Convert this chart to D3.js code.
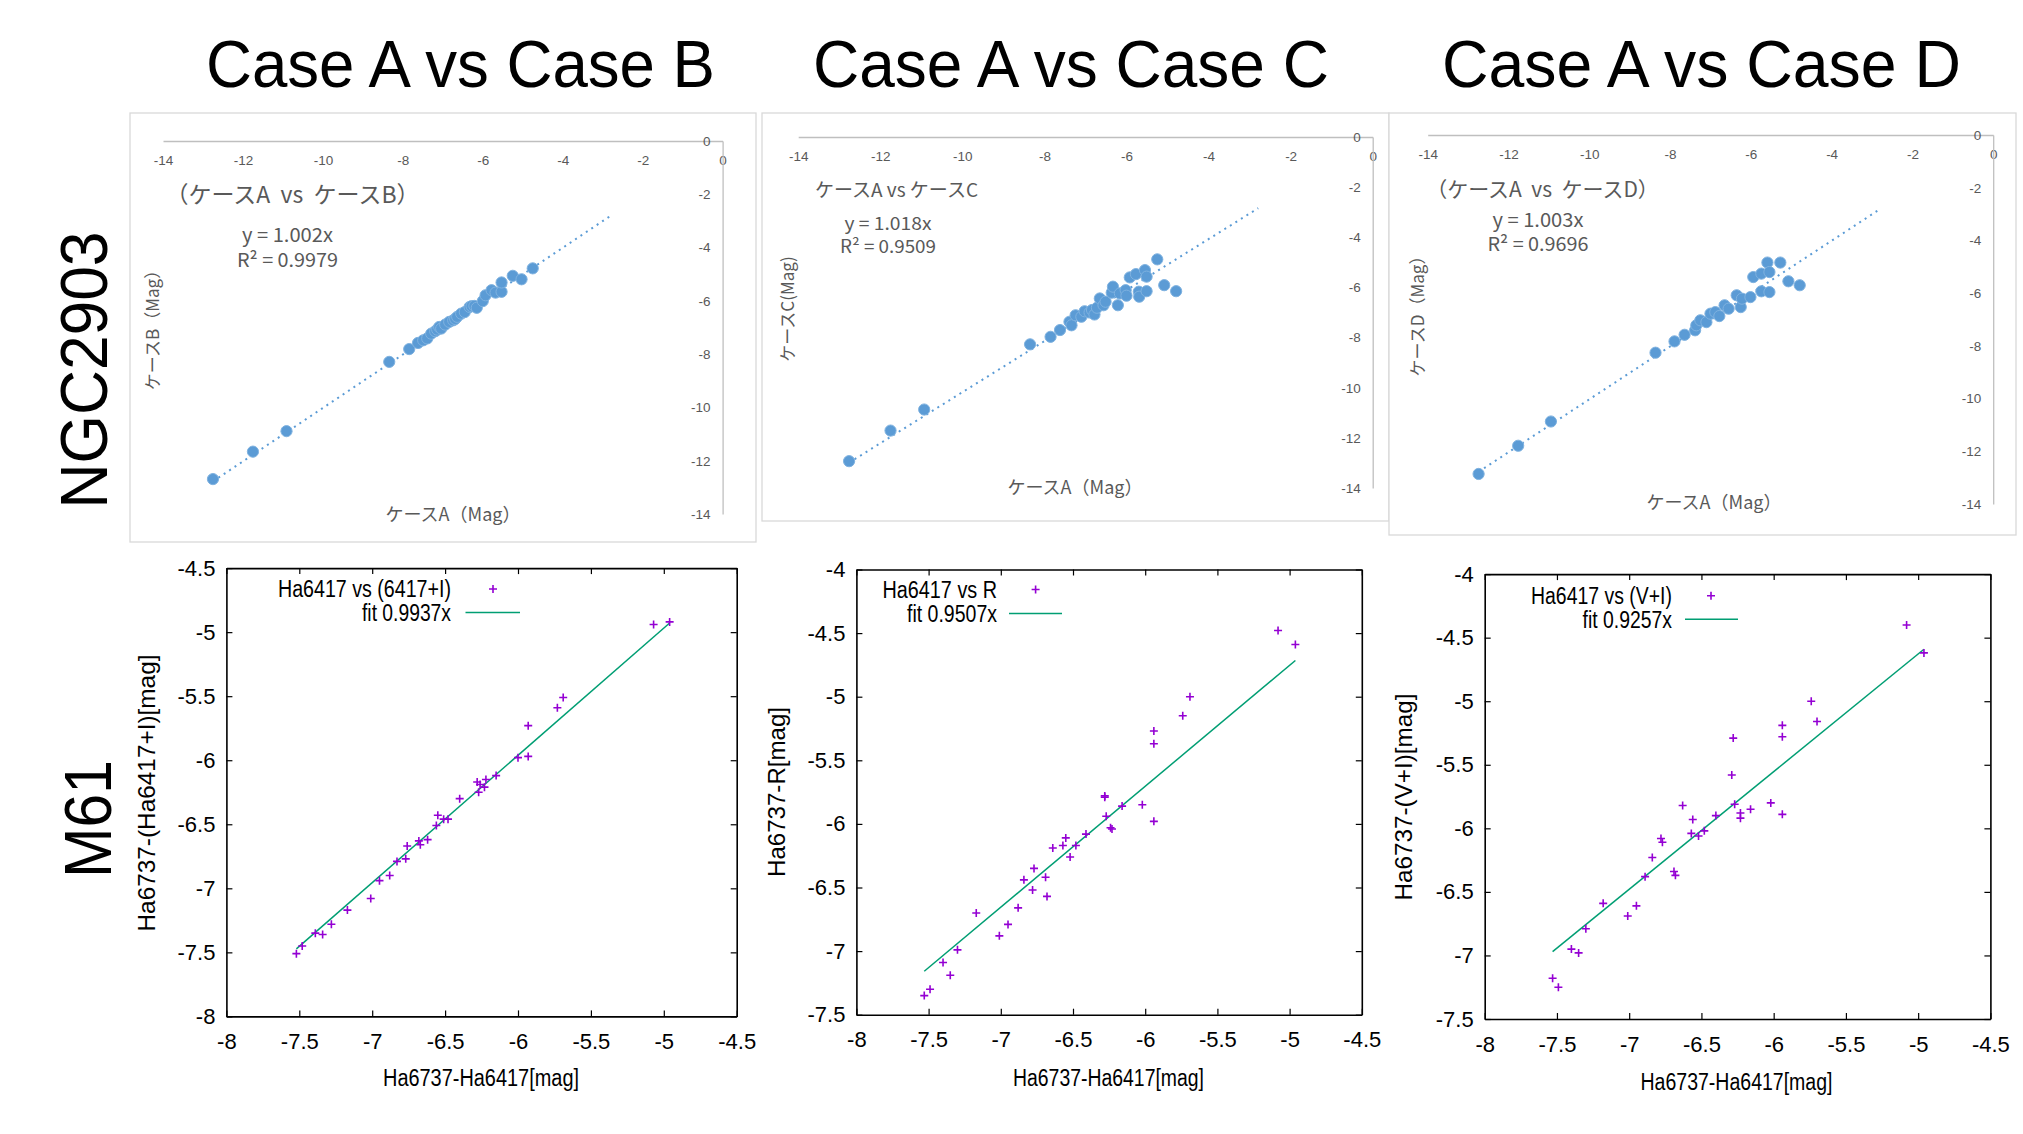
<!DOCTYPE html>
<html><head><meta charset="utf-8">
<script src="https://cdn.jsdelivr.net/npm/d3@7"></script>
<style>
html,body{margin:0;padding:0;background:#fff;}
svg{display:block;}
</style></head><body>
<svg id="c" width="2023" height="1134"></svg>
<script>
// ---------------- data ----------------
const columnTitles = ["Case A vs Case B", "Case A vs Case C", "Case A vs Case D"];
const rowLabels = ["NGC2903", "M61"];

// NGC2903 (Excel charts)
const ngcTicks = [-14, -12, -10, -8, -6, -4, -2, 0];
const ngcPanelTitles = ["（ケースA  vs  ケースB）", "ケースA vs ケースC", "（ケースA  vs  ケースD）"];
const ngcYTitles = ["ケースB（Mag）", "ケースC(Mag)", "ケースD（Mag）"];
const ngcXTitle = "ケースA（Mag）";
const ngcSlopes = [1.002, 1.018, 1.003];
const ngcR2 = ["0.9979", "0.9509", "0.9696"];

const ngcB_caseA = [-12.75,-11.75,-10.91,-8.34,-7.84,-7.62,-7.49,-7.39,-7.29,-7.19,-7.14,-7.09,-7.04,-6.94,-6.84,-6.74,-6.69,-6.64,-6.54,-6.45,-6.33,-6.28,-6.21,-6.15,-6.0,-5.93,-5.78,-5.68,-5.53,-5.53,-5.25,-5.03,-4.75];
const ngcB_caseB = [-12.69,-11.66,-10.89,-8.29,-7.81,-7.58,-7.48,-7.41,-7.23,-7.14,-7.08,-6.98,-7.04,-6.89,-6.79,-6.73,-6.68,-6.60,-6.48,-6.42,-6.23,-6.20,-6.19,-6.26,-6.01,-5.79,-5.60,-5.69,-5.66,-5.31,-5.06,-5.19,-4.78];

const ngcC_caseA = [-12.76,-11.75,-10.93,-8.35,-7.85,-7.62,-7.39,-7.34,-7.24,-7.1,-7.02,-6.9,-6.84,-6.78,-6.72,-6.65,-6.56,-6.51,-6.36,-6.33,-6.21,-6.16,-6.02,-6.0,-5.92,-5.77,-5.7,-5.69,-5.55,-5.51,-5.51,-5.25,-5.08,-4.79];
const ngcC_caseC = [-12.93,-11.71,-10.87,-8.27,-7.97,-7.70,-7.37,-7.51,-7.11,-7.17,-6.95,-7.0,-6.90,-7.08,-6.81,-6.44,-6.71,-6.57,-6.21,-5.97,-6.71,-6.24,-6.11,-6.33,-5.60,-5.47,-6.17,-6.37,-5.31,-5.57,-6.15,-4.88,-5.91,-6.15];

const ngcD_caseA = [-12.74,-11.76,-10.95,-8.36,-7.89,-7.64,-7.38,-7.35,-7.25,-7.1,-7.0,-6.88,-6.78,-6.65,-6.55,-6.35,-6.25,-6.22,-6.01,-5.94,-5.74,-5.74,-5.59,-5.54,-5.54,-5.27,-5.07,-4.79];
const ngcD_caseD = [-12.86,-11.79,-10.87,-8.26,-7.83,-7.58,-7.41,-7.22,-7.03,-7.10,-6.78,-6.72,-6.87,-6.46,-6.59,-6.08,-6.53,-6.21,-6.15,-5.39,-5.26,-5.93,-4.84,-5.20,-5.96,-4.84,-5.55,-5.70];

// M61 (gnuplot charts)
const m61XTicks = [-8, -7.5, -7, -6.5, -6, -5.5, -5, -4.5];
const m61YTicksB = [-8, -7.5, -7, -6.5, -6, -5.5, -5, -4.5];
const m61YTicksCD = [-7.5, -7, -6.5, -6, -5.5, -5, -4.5, -4];
const m61XTitle = "Ha6737-Ha6417[mag]";
const m61YTitles = ["Ha6737-(Ha6417+I)[mag]", "Ha6737-R[mag]", "Ha6737-(V+I)[mag]"];
const m61Legends = ["Ha6417 vs (6417+I)", "Ha6417 vs R", "Ha6417 vs (V+I)"];
const m61FitSlopes = [0.9937, 0.9507, 0.9257];

const m61B_x = [-7.52,-7.48,-7.39,-7.34,-7.28,-7.17,-7.01,-6.95,-6.88,-6.83,-6.77,-6.76,-6.68,-6.67,-6.62,-6.56,-6.55,-6.51,-6.48,-6.40,-6.28,-6.27,-6.26,-6.23,-6.22,-6.15,-6.00,-5.93,-5.93,-5.73,-5.69,-5.07,-4.96];
const m61B_y = [-7.51,-7.45,-7.35,-7.36,-7.28,-7.17,-7.08,-6.94,-6.90,-6.79,-6.77,-6.67,-6.63,-6.66,-6.62,-6.51,-6.43,-6.46,-6.46,-6.30,-6.17,-6.25,-6.19,-6.21,-6.15,-6.12,-5.98,-5.97,-5.73,-5.59,-5.51,-4.94,-4.92];

const m61C_x = [-7.53,-7.49,-7.40,-7.35,-7.30,-7.17,-7.01,-6.95,-6.88,-6.84,-6.78,-6.77,-6.69,-6.68,-6.64,-6.57,-6.55,-6.52,-6.48,-6.41,-6.28,-6.28,-6.27,-6.24,-6.23,-6.16,-6.02,-5.94,-5.94,-5.94,-5.74,-5.69,-5.08,-4.96];
const m61C_y = [-7.35,-7.30,-7.09,-7.19,-6.99,-6.70,-6.88,-6.79,-6.66,-6.44,-6.52,-6.35,-6.42,-6.57,-6.19,-6.17,-6.11,-6.26,-6.17,-6.08,-5.78,-5.79,-5.94,-6.03,-6.04,-5.86,-5.85,-5.27,-5.37,-5.98,-5.15,-5.00,-4.48,-4.59];

const m61D_x = [-7.53,-7.49,-7.40,-7.35,-7.30,-7.18,-7.01,-6.95,-6.89,-6.84,-6.78,-6.77,-6.69,-6.68,-6.63,-6.57,-6.56,-6.52,-6.48,-6.40,-6.29,-6.28,-6.27,-6.23,-6.23,-6.16,-6.02,-5.94,-5.94,-5.94,-5.74,-5.70,-5.08,-4.96];
const m61D_y = [-7.18,-7.25,-6.95,-6.98,-6.79,-6.59,-6.69,-6.61,-6.38,-6.23,-6.08,-6.11,-6.34,-6.37,-5.82,-6.04,-5.93,-6.06,-6.02,-5.90,-5.58,-5.29,-5.81,-5.88,-5.92,-5.85,-5.80,-5.19,-5.28,-5.89,-5.00,-5.16,-4.40,-4.62];

const trendForecast = 2; // Excel trendline forward forecast (units)

// ---------------- drawing ----------------
const svg = d3.select("#c");
svg.append("rect").attr("width", 2023).attr("height", 1134).attr("fill", "#fff");

const BIG = "'Liberation Sans Narrow','Liberation Sans',Arial,sans-serif";
const JP = "'Noto Sans CJK JP','Noto Sans',sans-serif";
const GP = "'Liberation Sans',Arial,sans-serif";

// column titles
const colTitlePos = [{x: 460.5, w: 509}, {x: 1071, w: 516}, {x: 1701.5, w: 519}];
columnTitles.forEach((t, i) => {
  svg.append("text").attr("x", colTitlePos[i].x).attr("y", 87)
    .attr("text-anchor", "middle").attr("font-family", BIG).attr("font-size", 66)
    .attr("textLength", colTitlePos[i].w).attr("lengthAdjust", "spacingAndGlyphs")
    .attr("fill", "#000").text(t);
});
// row labels
const rowPos = [{x: 107, y: 370, w: 277}, {x: 111, y: 819, w: 118}];
rowLabels.forEach((t, i) => {
  svg.append("text").attr("transform", `translate(${rowPos[i].x},${rowPos[i].y}) rotate(-90)`)
    .attr("text-anchor", "middle").attr("font-family", BIG).attr("font-size", 66)
    .attr("textLength", rowPos[i].w).attr("lengthAdjust", "spacingAndGlyphs")
    .attr("fill", "#000").text(t);
});

// ---- NGC2903 Excel-style panels ----
const ngcCfg = [
  {box: [130, 113, 756, 542], xr: [163, 722.6], yr: [141, 514],
   title: {x: 292.5, y: 195, size: 23}, eq: {x: 287.5, y1: 235, y2: 260, w1: 91, w2: 101, size: 19},
   yt: {x: 153, y: 326, size: 17}, xt: {x: 453, y: 515, size: 18}},
  {box: [762, 113, 1389, 521], xr: [798.2, 1372.7], yr: [137, 488],
   title: {x: 896.5, y: 190, size: 19}, eq: {x: 888, y1: 224, y2: 247, w1: 87, w2: 96, size: 18},
   yt: {x: 788, y: 309, size: 17}, xt: {x: 1075, y: 488, size: 18}},
  {box: [1389, 113, 2016, 535], xr: [1427.7, 1993.2], yr: [135, 504],
   title: {x: 1542.5, y: 190, size: 21}, eq: {x: 1538, y1: 220, y2: 244, w1: 91, w2: 101, size: 19},
   yt: {x: 1418, y: 312, size: 17}, xt: {x: 1714, y: 503, size: 18}}
];
const ngcData = [[ngcB_caseA, ngcB_caseB], [ngcC_caseA, ngcC_caseC], [ngcD_caseA, ngcD_caseD]];

ngcCfg.forEach((c, i) => {
  const g = svg.append("g");
  g.append("rect").attr("x", c.box[0]).attr("y", c.box[1])
    .attr("width", c.box[2] - c.box[0]).attr("height", c.box[3] - c.box[1])
    .attr("fill", "#fff").attr("stroke", "#d9d9d9").attr("stroke-width", 1.3);
  const x = d3.scaleLinear().domain([-14, 0]).range(c.xr);
  const y = d3.scaleLinear().domain([0, -14]).range(c.yr);

  const xa = g.append("g").attr("transform", `translate(0,${y(0)})`)
    .call(d3.axisBottom(x).tickValues(ngcTicks).tickSize(0).tickPadding(14).tickFormat(d => String(d)));
  const ya = g.append("g").attr("transform", `translate(${x(0)},0)`)
    .call(d3.axisLeft(y).tickValues(ngcTicks).tickSize(0).tickPadding(12).tickFormat(d => String(d)));
  [xa, ya].forEach(a => {
    a.select(".domain").attr("stroke", "#bfbfbf").attr("stroke-width", 1.3);
    a.selectAll("text").attr("fill", "#595959").attr("font-family", GP).attr("font-size", 13.5);
  });

  const xs = ngcData[i][0], ys = ngcData[i][1], k = ngcSlopes[i];
  const x0 = d3.min(xs), x1 = d3.max(xs) + trendForecast;
  g.append("line").attr("x1", x(x0)).attr("y1", y(k * x0)).attr("x2", x(x1)).attr("y2", y(k * x1))
    .attr("stroke", "#5B9BD5").attr("stroke-width", 2).attr("stroke-dasharray", "2,4.5");

  g.selectAll("circle.pt").data(d3.range(xs.length)).join("circle").attr("class", "pt")
    .attr("cx", j => x(xs[j])).attr("cy", j => y(ys[j])).attr("r", 5.6)
    .attr("fill", "#5B9BD5").attr("stroke", "#7fb2e0").attr("stroke-width", 1);

  g.append("text").attr("x", c.title.x).attr("y", c.title.y).attr("dy", "0.35em")
    .attr("text-anchor", "middle").attr("font-family", JP).attr("font-size", c.title.size)
    .attr("fill", "#595959").style("white-space", "pre").text(ngcPanelTitles[i]);
  g.append("text").attr("x", c.eq.x).attr("y", c.eq.y1).attr("dy", "0.35em")
    .attr("text-anchor", "middle").attr("font-family", JP).attr("font-size", c.eq.size)
    .attr("textLength", c.eq.w1).attr("lengthAdjust", "spacingAndGlyphs")
    .attr("fill", "#595959").text(`y = ${k.toFixed(3)}x`);
  g.append("text").attr("x", c.eq.x).attr("y", c.eq.y2).attr("dy", "0.35em")
    .attr("text-anchor", "middle").attr("font-family", JP).attr("font-size", c.eq.size)
    .attr("textLength", c.eq.w2).attr("lengthAdjust", "spacingAndGlyphs")
    .attr("fill", "#595959").text(`R² = ${ngcR2[i]}`);
  g.append("text").attr("transform", `translate(${c.yt.x},${c.yt.y}) rotate(-90)`).attr("dy", "0.35em")
    .attr("text-anchor", "middle").attr("font-family", JP).attr("font-size", c.yt.size)
    .attr("fill", "#595959").text(ngcYTitles[i]);
  g.append("text").attr("x", c.xt.x).attr("y", c.xt.y).attr("dy", "0.35em")
    .attr("text-anchor", "middle").attr("font-family", JP).attr("font-size", c.xt.size)
    .attr("fill", "#595959").text(ngcXTitle);
});

// ---- M61 gnuplot-style panels ----
const m61Cfg = [
  {xr: [226.4, 736.7], yr: [568.1, 1016.4], ydom: [-4.5, -8], yticks: m61YTicksB,
   leg: {end: 451, y1: 589, y2: 612.5, w1: 173, w2: 89, mk: 493, l0: 465.5, l1: 520},
   yt: {x: 146, y: 793, len: 277}, xt: {x: 481, y: 1078, w: 196}},
  {xr: [856.4, 1361.8], yr: [569.5, 1014.7], ydom: [-4, -7.5], yticks: m61YTicksCD,
   leg: {end: 997, y1: 589.5, y2: 613.5, w1: 114.5, w2: 90, mk: 1035.6, l0: 1009, l1: 1062},
   yt: {x: 776, y: 792, len: 170}, xt: {x: 1108.5, y: 1078, w: 191}},
  {xr: [1484.7, 1990.4], yr: [574.1, 1019], ydom: [-4, -7.5], yticks: m61YTicksCD,
   leg: {end: 1672, y1: 595.7, y2: 619.3, w1: 141, w2: 89.5, mk: 1711, l0: 1685, l1: 1738},
   yt: {x: 1403, y: 797, len: 207}, xt: {x: 1736.5, y: 1081.6, w: 192}}
];
const m61Data = [[m61B_x, m61B_y], [m61C_x, m61C_y], [m61D_x, m61D_y]];
const plusPath = "M-4,0H4M0,-4V4";
const PURPLE = "#9400d3", GREEN = "#009e73";

m61Cfg.forEach((c, i) => {
  const g = svg.append("g");
  const x = d3.scaleLinear().domain([-8, -4.5]).range(c.xr);
  const y = d3.scaleLinear().domain(c.ydom).range(c.yr);
  const fmt = d => String(d);

  const bottom = g.append("g").attr("transform", `translate(0,${c.yr[1]})`)
    .call(d3.axisBottom(x).tickValues(m61XTicks).tickSizeInner(-6).tickSizeOuter(0).tickPadding(17).tickFormat(fmt));
  const top = g.append("g").attr("transform", `translate(0,${c.yr[0]})`)
    .call(d3.axisTop(x).tickValues(m61XTicks).tickSizeInner(-6).tickSizeOuter(0).tickFormat(() => ""));
  const left = g.append("g").attr("transform", `translate(${c.xr[0]},0)`)
    .call(d3.axisLeft(y).tickValues(c.yticks).tickSizeInner(-6).tickSizeOuter(0).tickPadding(11).tickFormat(fmt));
  const right = g.append("g").attr("transform", `translate(${c.xr[1]},0)`)
    .call(d3.axisRight(y).tickValues(c.yticks).tickSizeInner(-6).tickSizeOuter(0).tickFormat(() => ""));
  [bottom, top, left, right].forEach(a => {
    a.select(".domain").attr("stroke", "#000").attr("stroke-width", 1.6);
    a.selectAll(".tick line").attr("stroke", "#000").attr("stroke-width", 1.2);
    a.selectAll("text").attr("fill", "#000").attr("font-family", GP).attr("font-size", 22);
  });

  const xs = m61Data[i][0], ys = m61Data[i][1], k = m61FitSlopes[i];
  const x0 = d3.min(xs), x1 = d3.max(xs);
  g.append("line").attr("x1", x(x0)).attr("y1", y(k * x0)).attr("x2", x(x1)).attr("y2", y(k * x1))
    .attr("stroke", GREEN).attr("stroke-width", 1.5);

  g.selectAll("path.pt").data(d3.range(xs.length)).join("path").attr("class", "pt")
    .attr("transform", j => `translate(${x(xs[j])},${y(ys[j])})`)
    .attr("d", plusPath).attr("stroke", PURPLE).attr("stroke-width", 1.6).attr("fill", "none");

  // legend
  g.append("text").attr("x", c.leg.end).attr("y", c.leg.y1).attr("dy", "0.36em")
    .attr("text-anchor", "end").attr("font-family", GP).attr("font-size", 23)
    .attr("textLength", c.leg.w1).attr("lengthAdjust", "spacingAndGlyphs").text(m61Legends[i]);
  g.append("path").attr("transform", `translate(${c.leg.mk},${c.leg.y1})`)
    .attr("d", plusPath).attr("stroke", PURPLE).attr("stroke-width", 1.6).attr("fill", "none");
  g.append("text").attr("x", c.leg.end).attr("y", c.leg.y2).attr("dy", "0.36em")
    .attr("text-anchor", "end").attr("font-family", GP).attr("font-size", 23)
    .attr("textLength", c.leg.w2).attr("lengthAdjust", "spacingAndGlyphs").text(`fit ${k}x`);
  g.append("line").attr("x1", c.leg.l0).attr("x2", c.leg.l1).attr("y1", c.leg.y2).attr("y2", c.leg.y2)
    .attr("stroke", GREEN).attr("stroke-width", 1.5);

  // axis titles
  g.append("text").attr("x", c.xt.x).attr("y", c.xt.y).attr("dy", "0.36em")
    .attr("text-anchor", "middle").attr("font-family", GP).attr("font-size", 23)
    .attr("textLength", c.xt.w).attr("lengthAdjust", "spacingAndGlyphs").text(m61XTitle);
  g.append("text").attr("transform", `translate(${c.yt.x},${c.yt.y}) rotate(-90)`).attr("dy", "0.36em")
    .attr("text-anchor", "middle").attr("font-family", GP).attr("font-size", 24)
    .attr("textLength", c.yt.len).attr("lengthAdjust", "spacingAndGlyphs").text(m61YTitles[i]);
});
</script>
</body></html>
